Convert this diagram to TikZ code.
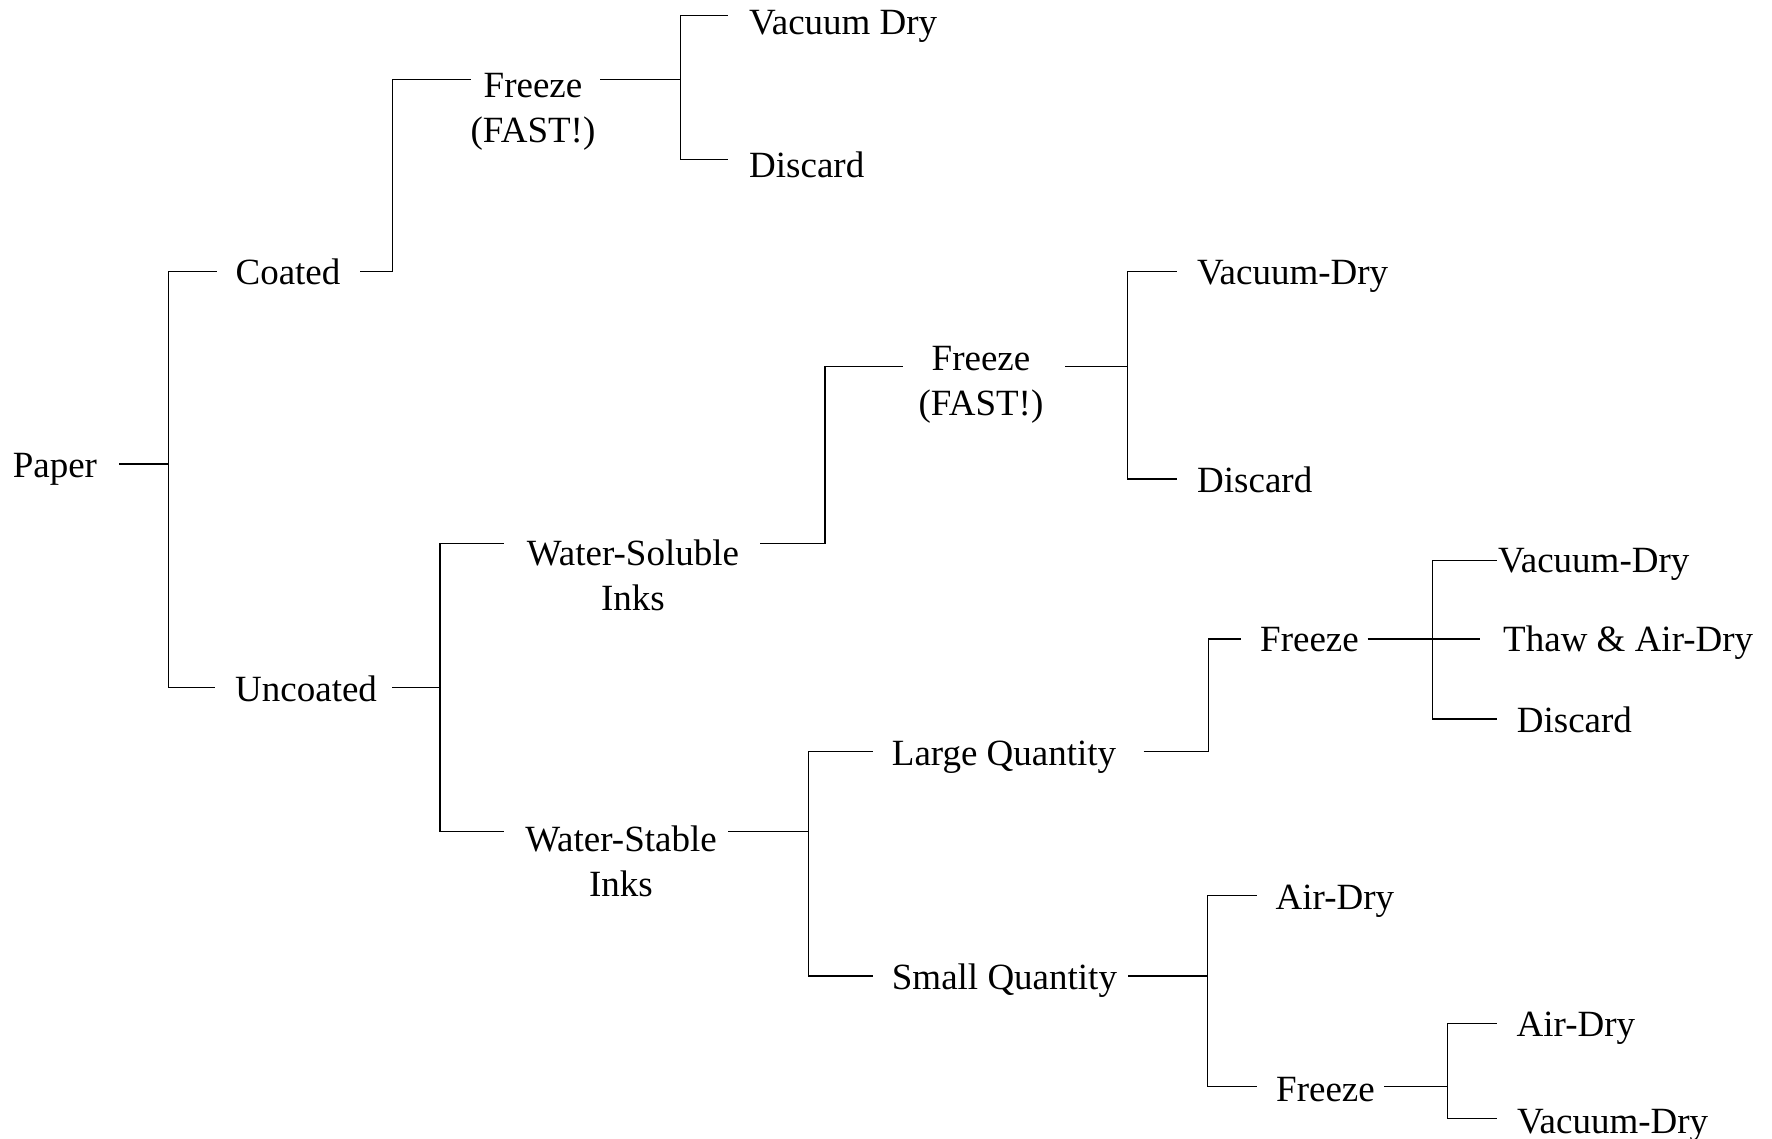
\documentclass[tikz,border=0pt]{standalone}
\usepackage{fontspec}
\setmainfont{Liberation Serif}
\begin{document}
\begin{tikzpicture}[x=1pt,y=-1pt,
  lbl/.style={inner sep=0pt,anchor=base west,font=\fontsize{37}{45}\selectfont},
  lbl2/.style={inner sep=0pt,anchor=north,align=center,font=\fontsize{37}{45}\selectfont},
  conn/.style={line width=1.3pt,line join=miter}]
\useasboundingbox (0,0) rectangle (1772,1139);
% labels
\node[lbl] (paper) at (12.6,477) {Paper};
\node[lbl] (coated) at (235.4,285) {Coated};
\node[lbl] (uncoated) at (235,701) {Uncoated};
\node[lbl2] (frzA) at (533,73) {Freeze\\(FAST!)};
\node[lbl] (vdA) at (749,34.6) {Vacuum Dry};
\node[lbl] (disA) at (749,177.5) {Discard};
\node[lbl2] (wsol) at (633,539.5) {Water-Soluble\\Inks};
\node[lbl2] (wstab) at (621,826) {Water-Stable\\Inks};
\node[lbl2] (frzB) at (981,346.5) {Freeze\\(FAST!)};
\node[lbl] (vdB) at (1196.8,285) {Vacuum-Dry};
\node[lbl] (disB) at (1197,492.3) {Discard};
\node[lbl] (large) at (891.7,765) {Large Quantity};
\node[lbl] (small) at (891.7,989) {Small Quantity};
\node[lbl] (frzC) at (1260,651.7) {Freeze};
\node[lbl] (vdC) at (1498,572.3) {Vacuum-Dry};
\node[lbl] (thaw) at (1503,651.7) {Thaw \& Air-Dry};
\node[lbl] (disC) at (1516.7,732.3) {Discard};
\node[lbl] (airA) at (1275.5,909) {Air-Dry};
\node[lbl] (frzD) at (1276,1101.7) {Freeze};
\node[lbl] (airB) at (1516.5,1036) {Air-Dry};
\node[lbl] (vdD) at (1516.8,1133.3) {Vacuum-Dry};
% connector ends
\coordinate (paper-o) at (119.4,464);
\coordinate (j-paper) at (168.2,464);
\coordinate (coated-i) at (217,271.4);
\coordinate (uncoated-i) at (214.7,687.3);
\coordinate (coated-o) at (360,271.4);
\coordinate (j-coated) at (392.6,271.4);
\coordinate (frzA-i) at (470.7,79.3);
\coordinate (frzA-o) at (600,79.3);
\coordinate (j-frzA) at (680.2,79.3);
\coordinate (vdA-i) at (728,15.4);
\coordinate (disA-i) at (728,159.3);
\coordinate (uncoated-o) at (392,687.3);
\coordinate (j-uncoated) at (440,687.3);
\coordinate (wsol-i) at (504.3,543.3);
\coordinate (wstab-i) at (504.3,831.7);
\coordinate (wsol-o) at (760,543.3);
\coordinate (j-wsol) at (825,543.3);
\coordinate (frzB-i) at (902.8,366.7);
\coordinate (frzB-o) at (1065,366.7);
\coordinate (j-frzB) at (1127.5,366.7);
\coordinate (vdB-i) at (1176.7,271.7);
\coordinate (disB-i) at (1176.7,479);
\coordinate (wstab-o) at (728.3,831.7);
\coordinate (j-wstab) at (808.4,831.7);
\coordinate (large-i) at (872.5,751.5);
\coordinate (small-i) at (872.5,976);
\coordinate (large-o) at (1143.7,751.5);
\coordinate (j-large) at (1208.3,751.5);
\coordinate (frzC-i) at (1240.5,639);
\coordinate (frzC-o) at (1367.5,639);
\coordinate (j-frzC) at (1432.6,639);
\coordinate (vdC-i) at (1496.7,560.7);
\coordinate (thaw-i) at (1480,639);
\coordinate (disC-i) at (1497,719);
\coordinate (small-o) at (1128,976);
\coordinate (j-small) at (1207.6,976);
\coordinate (airA-i) at (1256.5,895.7);
\coordinate (frzD-i) at (1256.7,1086.7);
\coordinate (frzD-o) at (1384,1086.7);
\coordinate (j-frzD) at (1447.5,1086.7);
\coordinate (airB-i) at (1496.7,1023.3);
\coordinate (vdD-i) at (1496.7,1118.5);
% connectors
\draw[conn] (paper-o) -- (j-paper);
\draw[conn] (j-paper) |- (coated-i);
\draw[conn] (j-paper) |- (uncoated-i);
\draw[conn] (coated-o) -- (j-coated) |- (frzA-i);
\draw[conn] (frzA-o) -- (j-frzA);
\draw[conn] (j-frzA) |- (vdA-i);
\draw[conn] (j-frzA) |- (disA-i);
\draw[conn] (uncoated-o) -- (j-uncoated);
\draw[conn] (j-uncoated) |- (wsol-i);
\draw[conn] (j-uncoated) |- (wstab-i);
\draw[conn] (wsol-o) -- (j-wsol) |- (frzB-i);
\draw[conn] (frzB-o) -- (j-frzB);
\draw[conn] (j-frzB) |- (vdB-i);
\draw[conn] (j-frzB) |- (disB-i);
\draw[conn] (wstab-o) -- (j-wstab);
\draw[conn] (j-wstab) |- (large-i);
\draw[conn] (j-wstab) |- (small-i);
\draw[conn] (large-o) -- (j-large) |- (frzC-i);
\draw[conn] (frzC-o) -- (j-frzC) -- (thaw-i);
\draw[conn] (j-frzC) |- (vdC-i);
\draw[conn] (j-frzC) |- (disC-i);
\draw[conn] (small-o) -- (j-small);
\draw[conn] (j-small) |- (airA-i);
\draw[conn] (j-small) |- (frzD-i);
\draw[conn] (frzD-o) -- (j-frzD);
\draw[conn] (j-frzD) |- (airB-i);
\draw[conn] (j-frzD) |- (vdD-i);
\end{tikzpicture}
\end{document}
